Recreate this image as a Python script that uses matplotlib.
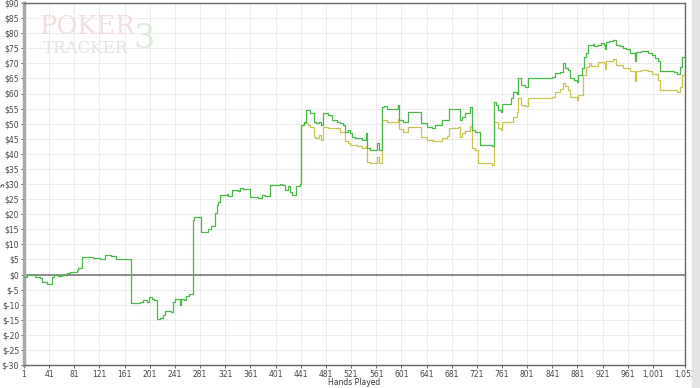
import numpy as np
import matplotlib
matplotlib.use("Agg")
import matplotlib.pyplot as plt
from matplotlib.patches import Rectangle

# Ganancias totales (verde): mano, dólares
hands_total = [1, 5, 10, 18, 26, 29, 37, 45, 48, 55, 62, 69, 74, 85, 87, 93, 110, 122, 130, 140, 148, 160,
               171, 185, 191, 196, 199, 204, 208, 213, 218, 222, 225, 234, 238, 241, 249, 251, 255, 259, 263,
               269, 271, 278, 283, 290, 293, 298, 305, 308, 310, 313, 323, 326, 331, 342, 344, 350, 361,
               373, 379, 384, 392, 408, 411, 416, 421, 424, 427, 434, 440,
               442, 446, 450, 455, 462, 466, 470, 473, 477, 485, 490, 498, 503, 509, 511, 516, 519, 522,
               527, 538, 544, 547, 551, 562, 566, 570, 573, 578, 595, 598, 604, 612, 633, 641, 650, 655,
               665, 677, 694, 697, 702, 710, 713, 718, 726, 745,
               748, 752, 755, 759, 761, 776, 778, 785, 787, 791, 798, 803, 835, 840, 846, 853, 858, 861,
               866, 869, 875, 880, 882, 888, 891, 895, 897, 905, 908, 913, 918, 923, 925, 926, 931, 938,
               942, 948, 953, 958, 964, 972, 974, 982, 991, 993, 999, 1004, 1009, 1012, 1030, 1034, 1039,
               1044, 1047, 1052]
total = [-0.7, 0.0, -0.3, -0.7, -1.0, -2.4, -3.0, -0.7, 0.0, -0.4, 0.0, 0.4, 0.8, 1.6, 2.0, 5.9, 5.6, 5.0,
         6.5, 6.1, 5.0, 5.0,
         -9.6, -9.0, -8.5, -9.0, -7.5, -8.0, -8.5, -14.8, -14.3, -13.5, -12.0, -12.4, -9.0, -8.0, -10.0,
         -8.0, -8.5, -7.0, -6.5,
         18.0, 19.2, 19.0, 14.2, 14.0, 15.0, 16.0, 20.3, 23.0, 24.0, 26.3, 26.6, 26.0, 28.0, 27.6, 28.8,
         28.5, 25.6, 25.2, 26.3, 26.0, 29.7, 30.0, 29.7, 28.0, 29.2, 27.5, 26.3, 29.4, 29.9,
         49.5, 50.5, 54.5, 53.5, 50.6, 50.1, 50.6, 49.6, 53.4, 53.0, 51.2, 50.6, 50.1, 49.6, 47.3, 47.8,
         46.8, 45.7, 45.2, 44.6, 46.8, 41.8, 41.4, 43.6, 41.4, 55.6, 56.0, 55.0, 56.3, 51.2, 50.6, 54.0,
         50.1, 49.0, 48.6, 49.5, 51.2, 55.0, 51.2, 52.3, 53.4, 55.6, 48.0, 47.3, 43.0, 42.6,
         57.3, 56.2, 54.5, 54.0, 56.6, 58.4, 60.6, 60.0, 65.0, 62.9, 62.3, 65.0, 65.0, 65.5, 66.7, 67.2,
         70.0, 68.3, 67.8, 65.0, 64.4, 63.9, 66.1, 68.3, 72.2, 73.3, 76.1, 76.4, 75.6, 76.1, 76.8, 76.1,
         74.6, 77.0, 77.4, 77.9, 76.1, 75.6, 75.0, 74.6, 73.5, 70.7, 73.8, 74.2, 74.2, 73.5, 72.8, 71.9,
         70.7, 67.4, 67.4, 67.0, 66.5, 68.8, 72.2, 73.3]

# Segunda serie (amarilla), separada a partir de la mano 441
hands_ev = [440, 442, 446, 452, 456, 462, 466, 470, 473, 477, 485, 490, 503, 511, 516, 519, 530, 538, 544,
            547, 551, 562, 566, 570, 578, 595, 598, 604, 612, 633, 641, 651, 665, 673, 677, 691, 694, 697,
            702, 710, 713, 718, 723, 745,
            748, 755, 759, 761, 776, 778, 785, 787, 791, 798, 803, 840, 846, 853, 858, 861, 866, 869, 880,
            882, 889, 890, 895, 900, 903, 913, 923, 925, 926, 938, 942, 953, 964, 972, 974, 982, 993, 999,
            1009, 1012, 1034, 1039, 1044, 1047, 1052]
ev = [29.9, 49.5, 50.1, 49.6, 49.0, 45.7, 45.4, 46.2, 44.6, 49.0, 48.7, 48.5, 47.3, 44.1, 43.6, 43.0, 42.6,
      41.9, 42.5, 37.4, 36.8, 39.0, 36.8, 51.2, 50.6, 51.4, 48.3, 47.3, 49.0, 45.7, 44.6, 44.1, 45.4, 46.0,
      48.5, 48.8, 45.7, 46.8, 47.6, 49.2, 42.0, 41.3, 36.9, 36.3,
      50.6, 48.5, 48.0, 50.6, 50.6, 52.3, 53.9, 58.4, 56.2, 55.7, 58.6, 58.8, 60.6, 61.5, 63.6, 62.5, 61.0,
      58.9, 57.8, 59.5, 59.5, 66.1, 68.9, 70.0, 69.2, 70.6, 70.0, 68.1, 70.8, 71.5, 69.6, 68.5, 67.4, 64.0,
      67.6, 67.9, 67.4, 66.3, 64.6, 61.2, 61.2, 60.4, 62.0, 66.1, 66.5]

x_ticks = [1, 41, 81, 121, 161, 201, 241, 281, 321, 361, 401, 441, 481, 521, 561, 601, 641, 681,
           721, 761, 801, 841, 881, 921, 961, 1001, 1052]
x_labels = ["1", "41", "81", "121", "161", "201", "241", "281", "321", "361", "401", "441", "481",
            "521", "561", "601", "641", "681", "721", "761", "801", "841", "881", "921", "961",
            "1,001", "1,052"]
y_ticks = list(range(-30, 95, 5))

fig = plt.figure(figsize=(7, 3.88), dpi=100)
ax = fig.add_axes([24 / 700, 1 - 365 / 388, 661 / 700, 362 / 388])

# Marca de agua
fig.text(40 / 700, 1 - 34 / 388, "POKER", fontsize=18.5, color="#f2dede", family="DejaVu Serif",
         zorder=0)
fig.text(43 / 700, 1 - 53 / 388, "TRACKER", fontsize=12, color="#e1e6e1", family="DejaVu Serif",
         zorder=0)
fig.text(134 / 700, 1 - 48 / 388, "3", fontsize=24, color="#dcecdc", family="DejaVu Serif",
         zorder=0)

ax.set_facecolor("none")
ax.step(hands_ev, ev, where="post", color="#c8c454", lw=0.9, zorder=3)
ax.step(hands_total, total, where="post", color="#48b848", lw=0.9, zorder=4)
ax.axhline(0, color="#7a7a7a", lw=1.2, zorder=2)

ax.set_xlim(1, 1052)
ax.set_ylim(-30, 90)
ax.set_xticks(x_ticks)
ax.set_xticklabels(x_labels)
ax.set_yticks(y_ticks)
ax.set_yticklabels(["$%d" % v for v in y_ticks])
ax.tick_params(labelsize=5.5, length=2.5, width=0.6, colors="#444444", pad=1)
ax.grid(True, color="#ececec", lw=0.7, zorder=0)
ax.set_axisbelow(True)

for side in ["top", "right", "bottom"]:
    ax.spines[side].set_color("#666666")
    ax.spines[side].set_linewidth(1.0)
ax.spines["left"].set_color("#a8a8a8")
ax.spines["left"].set_linewidth(2.5)

ax.set_xlabel("Hands Played", fontsize=5.5, color="#333333", va="center")
ax.xaxis.set_label_coords(0.5, -17.5 / 362)
ax.set_ylabel("$", fontsize=5, color="#333333", va="center")
ax.yaxis.set_label_coords(-21.5 / 661, 0.497)

# Franja gris a la derecha
fig.patches.append(Rectangle((692 / 700, 0), 8 / 700, 1, transform=fig.transFigure,
                             color="#e4e4e4", zorder=0))

fig.savefig("out.png", dpi=100)
